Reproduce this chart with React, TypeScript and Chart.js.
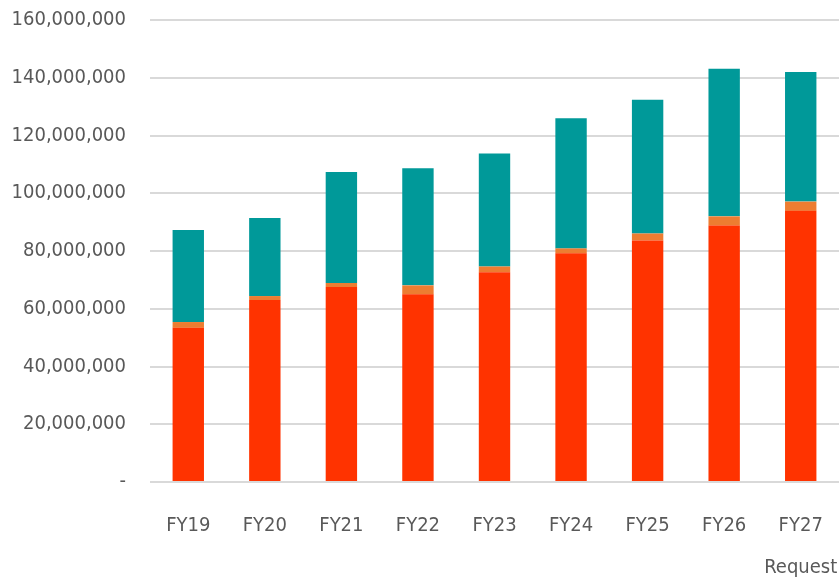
import React, { useEffect, useRef } from "react";
import { Chart, registerables } from "chart.js";

Chart.register(...registerables);

const categories: (string | string[])[] = ["FY19", "FY20", "FY21", "FY22", "FY23", "FY24", "FY25", "FY26", ["FY27", "Request"]];
const baseValues = [53400000, 63000000, 67500000, 65000000, 72600000, 79200000, 83600000, 88800000, 93900000];
const midValues = [2000000, 1400000, 1400000, 3100000, 2000000, 1700000, 2500000, 3200000, 3200000];
const topValues = [31900000, 27000000, 38500000, 40600000, 39200000, 45100000, 46300000, 51100000, 44900000];
const yMin = 0;
const yMax = 160000000;
const yStep = 20000000;

const FONT = "'DejaVu Sans Condensed', 'DejaVu Sans', sans-serif";

export default function App() {
  const ref = useRef<HTMLCanvasElement>(null);
  useEffect(() => {
    if (!ref.current) return;
    const chart = new Chart(ref.current, {
      type: "bar",
      data: {
        labels: categories,
        datasets: [
          { label: "Base", data: baseValues, backgroundColor: "#FF3300" },
          { label: "Mid", data: midValues, backgroundColor: "#ED7D31" },
          { label: "Top", data: topValues, backgroundColor: "#009999" },
        ],
      },
      options: {
        responsive: false,
        animation: false,
        layout: { padding: { top: 20, right: 0, left: 0, bottom: 0 } },
        plugins: { legend: { display: false }, tooltip: { enabled: false } },
        datasets: { bar: { categoryPercentage: 1, barPercentage: 0.41 } },
        scales: {
          x: {
            stacked: true,
            grid: { display: false, drawTicks: false },
            border: { display: false },
            ticks: {
              color: "#595959",
              font: { family: FONT, size: 20, lineHeight: 2.1 },
              padding: 23,
              maxRotation: 0,
              autoSkip: false,
            },
            afterFit: (s: any) => {
              s.height = 103;
              s.paddingLeft = 0;
              s.paddingRight = 0;
            },
          },
          y: {
            stacked: true,
            min: yMin,
            max: yMax,
            grid: { color: "#d9d9d9", lineWidth: 2, drawTicks: false },
            border: { display: false },
            ticks: {
              stepSize: yStep,
              color: "#595959",
              font: { family: FONT, size: 20 },
              padding: 24,
              callback: (v: any) => (Number(v) === 0 ? "-" : Number(v).toLocaleString("en-US")),
            },
            afterFit: (s: any) => {
              s.width = 150;
              s.paddingTop = 0;
              s.paddingBottom = 0;
            },
          },
        },
      },
    });
    return () => chart.destroy();
  }, []);
  return (
    <div style={{ position: "absolute", left: 0, top: 0, width: 839, height: 585, background: "#fff" }}>
      <canvas ref={ref} width={839} height={585} />
    </div>
  );
}
